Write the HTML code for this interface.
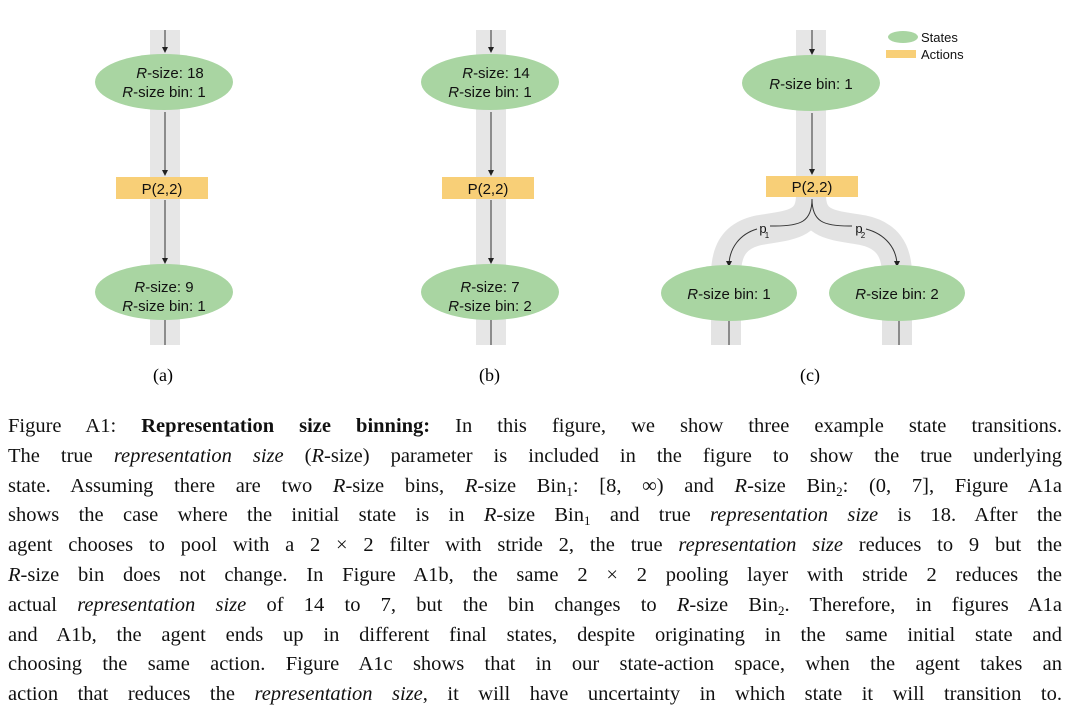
<!DOCTYPE html>
<html><head><meta charset="utf-8">
<style>
body{margin:0;width:1070px;height:722px;background:#fff;overflow:hidden;position:relative;font-family:"Liberation Sans",sans-serif;}
svg{position:absolute;left:0;top:0}
.cap{position:absolute;left:8px;width:1054px;top:412px;font-family:"Liberation Serif",serif;font-size:20.5px;line-height:29.8px;color:#111}
.cap div{text-align:justify;text-align-last:justify;white-space:nowrap;height:29.8px}
sub{font-size:13px;line-height:0;position:relative;vertical-align:baseline;top:4px}
i.m{font-style:italic}
.lbl{position:absolute;font-family:"Liberation Serif",serif;font-size:18px;top:365px}
</style></head><body>
<svg width="1070" height="400" viewBox="0 0 1070 400">
<defs><marker id="ar" markerWidth="6" markerHeight="6" refX="5" refY="3" orient="auto"><path d="M0,0 L6,3 L0,6 z" fill="#222"/></marker></defs>
<g fill="#e6e6e6">
<rect x="150" y="30" width="30" height="315"/>
<rect x="476" y="30" width="30" height="315"/>
<rect x="796" y="30" width="30" height="180"/>
</g>
<path d="M811,195 C811,225 790,225 760,230 C735,235 726,250 726,275 L726,345" stroke="#e3e3e3" stroke-width="30" fill="none"/>
<path d="M811,195 C811,225 832,225 862,230 C887,235 897,250 897,275 L897,345" stroke="#e3e3e3" stroke-width="30" fill="none"/>
<g stroke="#333" stroke-width="1" fill="none">
<line x1="165" y1="30" x2="165" y2="52" marker-end="url(#ar)"/>
<line x1="165" y1="112" x2="165" y2="175" marker-end="url(#ar)"/>
<line x1="165" y1="200" x2="165" y2="263" marker-end="url(#ar)"/>
<line x1="165" y1="320" x2="165" y2="345"/>
<line x1="491" y1="30" x2="491" y2="52" marker-end="url(#ar)"/>
<line x1="491" y1="112" x2="491" y2="175" marker-end="url(#ar)"/>
<line x1="491" y1="200" x2="491" y2="263" marker-end="url(#ar)"/>
<line x1="491" y1="320" x2="491" y2="345"/>
<line x1="812" y1="30" x2="812" y2="54" marker-end="url(#ar)"/>
<line x1="812" y1="113" x2="812" y2="174" marker-end="url(#ar)"/>
<path d="M812,199 C812,222 800,226 775,226 L770,226"/>
<path d="M757,229 C740,234 729,248 729,266" marker-end="url(#ar)"/>
<path d="M812,199 C812,222 824,226 849,226 L852,226"/>
<path d="M866,229 C885,234 897,248 897,266" marker-end="url(#ar)"/>
<line x1="729" y1="320" x2="729" y2="345"/>
<line x1="899" y1="320" x2="899" y2="345"/>
</g>
<g fill="#a9d5a2">
<ellipse cx="164" cy="82" rx="69" ry="28"/>
<ellipse cx="490" cy="82" rx="69" ry="28"/>
<ellipse cx="811" cy="83" rx="69" ry="28"/>
<ellipse cx="164" cy="292" rx="69" ry="28"/>
<ellipse cx="490" cy="292" rx="69" ry="28"/>
<ellipse cx="729" cy="293" rx="68" ry="28"/>
<ellipse cx="897" cy="293" rx="68" ry="28"/>
<ellipse cx="903" cy="37" rx="15" ry="6"/>
</g>
<g fill="#f8cf77">
<rect x="116" y="177" width="92" height="22"/>
<rect x="442" y="177" width="92" height="22"/>
<rect x="766" y="176" width="92" height="21"/>
<rect x="886" y="50" width="30" height="8"/>
</g>
<g font-family="Liberation Sans,sans-serif" font-size="15" fill="#111" text-anchor="middle">
<text x="170" y="78"><tspan font-style="italic">R</tspan>-size: 18</text>
<text x="164" y="97"><tspan font-style="italic">R</tspan>-size bin: 1</text>
<text x="496" y="78"><tspan font-style="italic">R</tspan>-size: 14</text>
<text x="490" y="97"><tspan font-style="italic">R</tspan>-size bin: 1</text>
<text x="811" y="89"><tspan font-style="italic">R</tspan>-size bin: 1</text>
<text x="164" y="292"><tspan font-style="italic">R</tspan>-size: 9</text>
<text x="164" y="311"><tspan font-style="italic">R</tspan>-size bin: 1</text>
<text x="490" y="292"><tspan font-style="italic">R</tspan>-size: 7</text>
<text x="490" y="311"><tspan font-style="italic">R</tspan>-size bin: 2</text>
<text x="729" y="299"><tspan font-style="italic">R</tspan>-size bin: 1</text>
<text x="897" y="299"><tspan font-style="italic">R</tspan>-size bin: 2</text>
<text x="162" y="194">P(2,2)</text>
<text x="488" y="194">P(2,2)</text>
<text x="812" y="192">P(2,2)</text>
<text x="763" y="233" font-size="13">p</text>
<text x="767" y="238" font-size="8">1</text>
<text x="859" y="233" font-size="13">p</text>
<text x="863" y="238" font-size="8">2</text>
</g>
<g font-family="Liberation Sans,sans-serif" font-size="13" fill="#111">
<text x="921" y="42">States</text>
<text x="921" y="59">Actions</text>
</g>
</svg>
<div class="lbl" style="left:153px">(a)</div>
<div class="lbl" style="left:479px">(b)</div>
<div class="lbl" style="left:800px">(c)</div>
<div class="cap">
<div>Figure A1: <b>Representation size binning:</b> In this figure, we show three example state transitions.</div>
<div>The true <i>representation size</i> (<i class="m">R</i>-size) parameter is included in the figure to show the true underlying</div>
<div>state. Assuming there are two <i class="m">R</i>-size bins, <i class="m">R</i>-size Bin<sub>1</sub>: [8, ∞) and <i class="m">R</i>-size Bin<sub>2</sub>: (0, 7], Figure A1a</div>
<div>shows the case where the initial state is in <i class="m">R</i>-size Bin<sub>1</sub> and true <i>representation size</i> is 18. After the</div>
<div>agent chooses to pool with a 2 × 2 filter with stride 2, the true <i>representation size</i> reduces to 9 but the</div>
<div><i class="m">R</i>-size bin does not change. In Figure A1b, the same 2 × 2 pooling layer with stride 2 reduces the</div>
<div>actual <i>representation size</i> of 14 to 7, but the bin changes to <i class="m">R</i>-size Bin<sub>2</sub>. Therefore, in figures A1a</div>
<div>and A1b, the agent ends up in different final states, despite originating in the same initial state and</div>
<div>choosing the same action. Figure A1c shows that in our state-action space, when the agent takes an</div>
<div>action that reduces the <i>representation size</i>, it will have uncertainty in which state it will transition to.</div>
</div>
</body></html>
